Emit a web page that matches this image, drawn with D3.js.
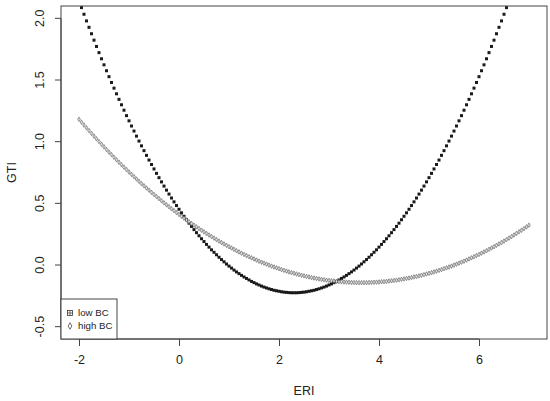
<!DOCTYPE html>
<html>
<head>
<meta charset="utf-8">
<script src="https://cdn.jsdelivr.net/npm/d3@7"></script>
<style>
  body { margin: 0; background: #fff; }
  svg { display: block; font-family: "Liberation Sans", Arial, sans-serif; }
  .axis text { fill: #222; font-size: 12.5px; }
  .axis line, .axis path { stroke: #444; }
</style>
</head>
<body>
<div id="chart"></div>
<script>
// ERI grid, as in seq(-2, 7, by = 0.05)
const eri = d3.range(0, 181).map((i) => Math.round((-2 + i * 0.05) * 100) / 100);

// GTI for low BC
const lowBC = [
  2.142, 2.087, 2.033, 1.979, 1.927, 1.875, 1.823, 1.772, 1.722, 1.672,
  1.623, 1.575, 1.527, 1.480, 1.434, 1.388, 1.343, 1.299, 1.255, 1.211,
  1.169, 1.127, 1.086, 1.045, 1.005, 0.966, 0.927, 0.889, 0.851, 0.815,
  0.779, 0.743, 0.708, 0.674, 0.640, 0.607, 0.575, 0.543, 0.512, 0.482,
  0.452, 0.423, 0.395, 0.367, 0.339, 0.313, 0.287, 0.262, 0.237, 0.213,
  0.190, 0.167, 0.145, 0.123, 0.103, 0.083, 0.063, 0.044, 0.026, 0.008,
  -0.009, -0.025, -0.041, -0.056, -0.070, -0.084, -0.097, -0.109, -0.121, -0.133,
  -0.143, -0.153, -0.162, -0.171, -0.179, -0.186, -0.193, -0.199, -0.205, -0.209,
  -0.213, -0.217, -0.220, -0.222, -0.224, -0.225, -0.225,
  -0.225, -0.224, -0.222, -0.220, -0.217, -0.213, -0.209, -0.205, -0.199, -0.193,
  -0.186, -0.179, -0.171, -0.162, -0.153, -0.143, -0.133, -0.121, -0.109, -0.097,
  -0.084, -0.070, -0.056, -0.041, -0.025, -0.009, 0.008, 0.026, 0.044, 0.063,
  0.083, 0.103, 0.123, 0.145, 0.167, 0.190, 0.213, 0.237, 0.262, 0.287,
  0.313, 0.339, 0.367, 0.395, 0.423, 0.452, 0.482, 0.512, 0.543, 0.575,
  0.607, 0.640, 0.674, 0.708, 0.743, 0.779, 0.815, 0.851, 0.889, 0.927,
  0.966, 1.005, 1.045, 1.086, 1.127, 1.169, 1.211, 1.255, 1.299, 1.343,
  1.388, 1.434, 1.480, 1.527, 1.575, 1.623, 1.672, 1.722, 1.772, 1.823,
  1.875, 1.927, 1.979, 2.033, 2.087, 2.142, 2.197, 2.253, 2.310, 2.367,
  2.425, 2.483, 2.543, 2.603
];

// GTI for high BC
const highBC = [
  1.182, 1.158, 1.135, 1.112, 1.090, 1.067, 1.045, 1.023, 1.001, 0.979,
  0.958, 0.936, 0.915, 0.895, 0.874, 0.853, 0.833, 0.813, 0.793, 0.774,
  0.754, 0.735, 0.716, 0.697, 0.679, 0.660, 0.642, 0.624, 0.607, 0.589,
  0.572, 0.555, 0.538, 0.521, 0.504, 0.488, 0.472, 0.456, 0.441, 0.425,
  0.410, 0.395, 0.380, 0.365, 0.351, 0.337, 0.323, 0.309, 0.295, 0.282,
  0.269, 0.256, 0.243, 0.231, 0.218, 0.206, 0.194, 0.182, 0.171, 0.160,
  0.148, 0.138, 0.127, 0.116, 0.106, 0.096, 0.086, 0.077, 0.067, 0.058,
  0.049, 0.040, 0.031, 0.023, 0.015, 0.007, -0.001, -0.009, -0.016, -0.023,
  -0.030, -0.037, -0.043, -0.050, -0.056, -0.062, -0.067, -0.073, -0.078, -0.083,
  -0.088, -0.093, -0.097, -0.102, -0.106, -0.109, -0.113, -0.116, -0.120, -0.123,
  -0.125, -0.128, -0.130, -0.133, -0.135, -0.136, -0.138, -0.139, -0.140, -0.141,
  -0.142, -0.143, -0.143, -0.143,
  -0.143, -0.143, -0.142, -0.141, -0.140, -0.139, -0.138, -0.136, -0.135, -0.133,
  -0.130, -0.128, -0.125, -0.123, -0.120, -0.116, -0.113, -0.109, -0.106, -0.102,
  -0.097, -0.093, -0.088, -0.083, -0.078, -0.073, -0.067, -0.062, -0.056, -0.050,
  -0.043, -0.037, -0.030, -0.023, -0.016, -0.009, -0.001, 0.007, 0.015, 0.023,
  0.031, 0.040, 0.049, 0.058, 0.067, 0.077, 0.086, 0.096, 0.106, 0.116,
  0.127, 0.138, 0.148, 0.160, 0.171, 0.182, 0.194, 0.206, 0.218, 0.231,
  0.243, 0.256, 0.269, 0.282, 0.295, 0.309, 0.323
];

const xTicks = [-2, 0, 2, 4, 6];
const yTicks = [-0.5, 0.0, 0.5, 1.0, 1.5, 2.0];
const legendLabels = ["low BC", "high BC"];

const width = 550;
const height = 401;
const margin = { top: 6, right: 3, bottom: 62, left: 61 };

// R pads the data range by 4% on each side
const pad = (lo, hi) => [lo - (hi - lo) * 0.04, hi + (hi - lo) * 0.04];
// R prints a plain hyphen for negatives
const hy = (f) => (d) => f(d).replace("\u2212", "-");

const x = d3.scaleLinear().domain(pad(-2, 7)).range([margin.left, width - margin.right]);
const y = d3.scaleLinear().domain(pad(-0.5, 2)).range([height - margin.bottom, margin.top]);

const svg = d3.select("#chart").append("svg").attr("width", width).attr("height", height);

svg.append("clipPath").attr("id", "plot-clip")
  .append("rect")
  .attr("x", x.range()[0]).attr("y", y.range()[1])
  .attr("width", x.range()[1] - x.range()[0])
  .attr("height", y.range()[0] - y.range()[1]);

const low = eri.map((e, i) => ({ x: e, y: lowBC[i] }));
const high = eri.map((e, i) => ({ x: e, y: highBC[i] }));

const gPts = svg.append("g").attr("clip-path", "url(#plot-clip)");

// low BC: small filled squares
gPts.append("g")
  .selectAll("rect")
  .data(low)
  .join("rect")
  .attr("x", (d) => x(d.x) - 1.5)
  .attr("y", (d) => y(d.y) - 1.5)
  .attr("width", 3)
  .attr("height", 3)
  .attr("fill", "#1a1a1a");

// high BC: small open diamonds
const diamond = d3.symbol().type(d3.symbolDiamond).size(6);
gPts.append("g")
  .selectAll("path")
  .data(high)
  .join("path")
  .attr("transform", (d) => `translate(${x(d.x)},${y(d.y)})`)
  .attr("d", diamond)
  .attr("fill", "#ddd")
  .attr("stroke", "#5a5a5a")
  .attr("stroke-width", 0.6);

// box
svg.append("rect")
  .attr("x", x.range()[0]).attr("y", y.range()[1])
  .attr("width", x.range()[1] - x.range()[0])
  .attr("height", y.range()[0] - y.range()[1])
  .attr("fill", "none")
  .attr("stroke", "#444");

// axes: line only from first to last tick, like R
const gX = svg.append("g")
  .attr("class", "axis")
  .attr("transform", `translate(0,${y.range()[0]})`)
  .call(d3.axisBottom(x).tickValues(xTicks).tickFormat(hy(d3.format("d"))).tickSize(7).tickPadding(9));
gX.select(".domain").attr("d", `M${x(xTicks[0])},0H${x(xTicks[xTicks.length - 1])}`);
gX.selectAll("text").style("font-family", "inherit");

const gY = svg.append("g")
  .attr("class", "axis")
  .attr("transform", `translate(${x.range()[0]},0)`)
  .call(d3.axisLeft(y).tickValues(yTicks).tickFormat(hy(d3.format(".1f"))).tickSize(6));
gY.select(".domain").attr("d", `M0,${y(yTicks[0])}V${y(yTicks[yTicks.length - 1])}`);
gY.selectAll("text")
  .attr("x", null).attr("dy", null)
  .attr("text-anchor", "middle")
  .attr("transform", (d) => `translate(-21,${y(d)}) rotate(-90)`)
  .attr("y", 0)
  .attr("dominant-baseline", "central");
gY.selectAll(".tick").attr("transform", null);
gY.selectAll(".tick line").attr("transform", (d) => `translate(0,${y(d)})`);

// axis titles
svg.append("text")
  .attr("x", (x.range()[0] + x.range()[1]) / 2)
  .attr("y", 395)
  .attr("text-anchor", "middle")
  .attr("fill", "#222")
  .style("font-size", "12.5px")
  .text("ERI");

svg.append("text")
  .attr("transform", `translate(12,${(y.range()[0] + y.range()[1]) / 2}) rotate(-90)`)
  .attr("text-anchor", "middle")
  .attr("dominant-baseline", "central")
  .attr("fill", "#222")
  .style("font-size", "12.5px")
  .text("GTI");

// legend, bottom-left inside the box
const lgW = 56, lgH = 40;
const lg = svg.append("g")
  .attr("transform", `translate(${x.range()[0]},${y.range()[0] - lgH})`);
lg.append("rect")
  .attr("width", lgW).attr("height", lgH)
  .attr("fill", "#fff").attr("stroke", "#444");

const items = lg.selectAll(".item")
  .data(legendLabels)
  .join("g")
  .attr("class", "item")
  .attr("transform", (d, i) => `translate(0,${14 + i * 13})`);

items.filter((d, i) => i === 0).call((g) => {
  g.append("rect").attr("x", 6.5).attr("y", -2.5).attr("width", 5).attr("height", 5)
    .attr("fill", "#fff").attr("stroke", "#333").attr("stroke-width", 0.8);
  g.append("path").attr("d", "M9,-2.5V2.5M6.5,0H11.5").attr("stroke", "#333").attr("stroke-width", 0.7);
});
items.filter((d, i) => i === 1)
  .append("path")
  .attr("transform", "translate(9,0)")
  .attr("d", d3.symbol().type(d3.symbolDiamond).size(12))
  .attr("fill", "none").attr("stroke", "#444").attr("stroke-width", 0.8);

items.append("text")
  .attr("x", 17)
  .attr("dy", "0.35em")
  .attr("fill", "#222")
  .style("font-size", "9.7px")
  .text((d) => d);
</script>
</body>
</html>
